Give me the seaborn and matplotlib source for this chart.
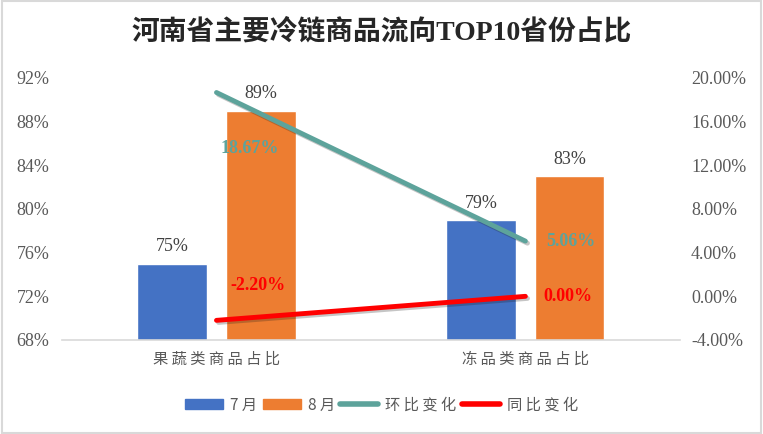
"""河南省主要冷链商品流向TOP10省份占比 — bars + two change lines on twin axis."""
import numpy as np
import pandas as pd
import seaborn as sns
import matplotlib.pyplot as plt
import matplotlib.patheffects as pe
from matplotlib.patches import Patch, Rectangle
from matplotlib.lines import Line2D

CATEGORIES = ['果蔬类商品占比', '冻品类商品占比']
MONTHS = ['7月', '8月']
JUL = [75, 79]
AUG = [89, 83]
MOM = [18.67, 5.06]    # 环比变化
YOY = [-2.20, 0.00]    # 同比变化
LEFT_TICKS = [68, 72, 76, 80, 84, 88, 92]
RIGHT_TICKS = [-4, 0, 4, 8, 12, 16, 20]

BLUE, ORANGE, TEAL, RED = '#4472C4', '#ED7D31', '#5DA39B', '#FF0000'
GRAY = '#595959'
SERIF = ['Liberation Serif', 'Noto Sans CJK SC']
CJK = ['Noto Sans CJK SC', 'DejaVu Sans']


def spaced(s):
    return ' '.join(s)


def main():
    sns.set_theme(style='white')
    plt.rcParams['font.family'] = SERIF

    df = pd.DataFrame({
        'cat': CATEGORIES * 2,
        'month': [MONTHS[0]] * 2 + [MONTHS[1]] * 2,
        'val': JUL + AUG,
    })

    fig = plt.figure(figsize=(7.63, 4.34), dpi=100)
    ax = fig.add_axes([0.0813, 0.2166, 0.8097, 0.6037])

    sns.barplot(data=df, x='cat', y='val', hue='month', order=CATEGORIES,
                hue_order=MONTHS, palette=[BLUE, ORANGE], width=0.575, gap=0.22,
                saturation=1, ax=ax, legend=False)
    for cont in ax.containers:
        ax.bar_label(cont, fmt='%d%%', padding=6, fontsize=13, color='#404040',
                     family=SERIF)

    ax.set_ylim(68, 92)
    ax.set_yticks(LEFT_TICKS)
    ax.set_yticklabels([f'{t}%' for t in LEFT_TICKS], fontsize=13, color=GRAY)
    ax.set_xlim(-0.5, 1.5)
    ax.set_xticks(range(len(CATEGORIES)))
    ax.set_xticklabels([spaced(c) for c in CATEGORIES], family=CJK, fontsize=11,
                       color=GRAY)
    ax.set_xlabel('')
    ax.set_ylabel('')
    ax.tick_params(axis='both', length=0)
    ax.tick_params(axis='x', pad=8)
    ax.tick_params(axis='y', pad=9)
    for side in ['top', 'left', 'right']:
        ax.spines[side].set_visible(False)
    ax.spines['bottom'].set_color('#D9D9D9')
    ax.spines['bottom'].set_linewidth(1.2)

    ax2 = ax.twinx()
    xs = list(range(len(CATEGORIES)))
    shadow = [pe.SimpleLineShadow(offset=(1.5, -1.5), alpha=0.25), pe.Normal()]
    sns.lineplot(x=xs, y=MOM, ax=ax2, color=TEAL, linewidth=3.5,
                 path_effects=shadow)
    sns.lineplot(x=xs, y=YOY, ax=ax2, color=RED, linewidth=3.5,
                 path_effects=shadow)
    ax2.set_ylim(-4, 20)
    ax2.set_yticks(RIGHT_TICKS)
    ax2.set_yticklabels([f'{t:.2f}%' for t in RIGHT_TICKS], fontsize=13, color=GRAY)
    ax2.tick_params(axis='y', length=0, pad=8)
    for side in ax2.spines:
        ax2.spines[side].set_visible(False)
    ax2.set_ylabel('')

    # line labels (offsets in pixels, as placed in the original)
    offs_mom = [(33, -56), (45, 0)]
    offs_yoy = [(42, 35), (43, 0)]
    for x, v, o in zip(xs, MOM, offs_mom):
        ax2.annotate(f'{v:.2f}%', (x, v), xytext=o, textcoords='offset pixels',
                     ha='center', va='center', color=TEAL, fontsize=13,
                     fontweight='bold', family=SERIF)
    for x, v, o in zip(xs, YOY, offs_yoy):
        ax2.annotate(f'{v:.2f}%', (x, v), xytext=o, textcoords='offset pixels',
                     ha='center', va='center', color=RED, fontsize=13,
                     fontweight='bold', family=SERIF)

    fig.text(0.5, 0.926, '河南省主要冷链商品流向TOP10省份占比', ha='center',
             va='center', fontsize=20, fontweight='bold', color='#262626',
             family=SERIF)

    handles = [
        Patch(facecolor=BLUE, edgecolor=BLUE),
        Patch(facecolor=ORANGE, edgecolor=ORANGE),
        Line2D([], [], color=TEAL, linewidth=4, solid_capstyle='round'),
        Line2D([], [], color=RED, linewidth=4, solid_capstyle='round'),
    ]
    labels = [spaced(m) for m in MONTHS] + [spaced('环比变化'), spaced('同比变化')]
    leg = fig.legend(handles, labels, loc='center', bbox_to_anchor=(0.5, 0.067),
                     ncol=4, frameon=False, handlelength=2.5, handleheight=0.7,
                     handletextpad=0.45, columnspacing=0.35,
                     prop={'family': CJK, 'size': 11})
    for t in leg.get_texts():
        t.set_color(GRAY)

    fig.patches.append(Rectangle((0.002, 0.003), 0.996, 0.994, transform=fig.transFigure,
                                 fill=False, edgecolor='#D9D9D9', linewidth=1.5))

    fig.savefig('out.png', dpi=100, facecolor='white')
    plt.close(fig)


if __name__ == '__main__':
    main()
